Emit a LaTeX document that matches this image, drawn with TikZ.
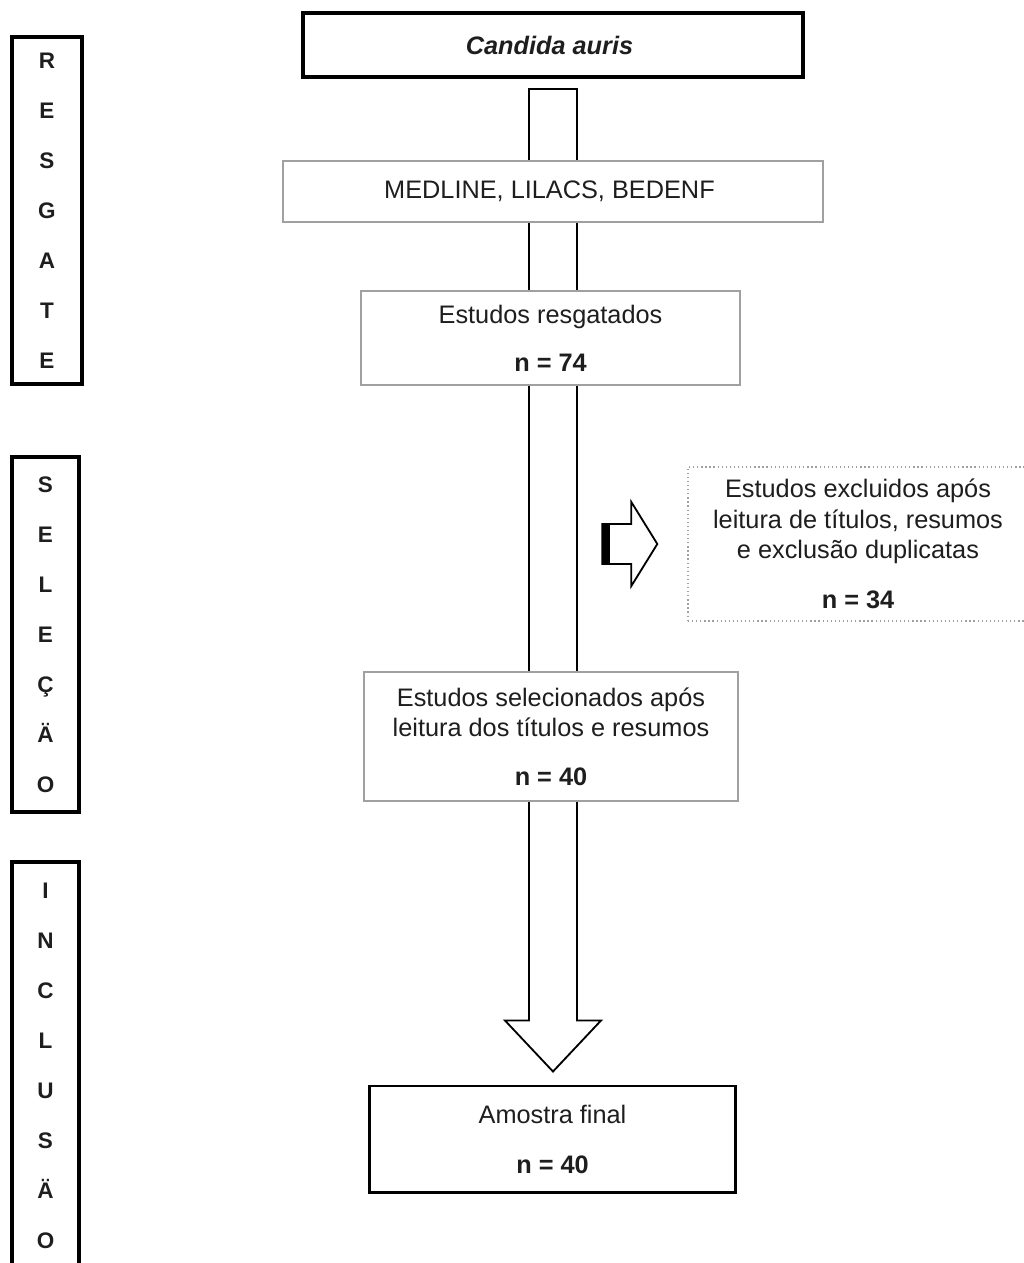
\documentclass[tikz,border=0pt]{standalone}
\usepackage{fontspec}
\setmainfont{Liberation Sans}
\usetikzlibrary{positioning,calc,backgrounds}
\definecolor{boxgray}{HTML}{A0A0A0}
\definecolor{inkgray}{HTML}{1E1E1E}

\begin{document}
\begin{tikzpicture}[
  x=0.025cm, y=-0.025cm,
  font=\fontsize{18}{21.5}\selectfont,
  headbox/.style={
    draw=black,
    fill=white,
    line width=2.8pt,
    inner sep=0pt,
    align=center,
    text=inkgray
  },
  plainbox/.style={
    draw=boxgray,
    fill=white,
    line width=0.9pt,
    inner sep=0pt,
    align=center,
    text=inkgray
  },
  dotbox/.style={
    draw=boxgray,
    fill=white,
    dotted,
    line width=0.9pt,
    inner sep=0pt,
    align=center,
    text=inkgray
  },
  stagebox/.style={
    draw=black,
    fill=white,
    line width=2.6pt,
    inner sep=0pt,
    align=center,
    text=inkgray,
    font=\fontsize{16}{35.6}\selectfont\bfseries
  },
  hollowarrow/.style={
    draw=black,
    fill=white,
    line width=1.3pt,
    line join=miter
  }
]
  \useasboundingbox (0,0) rectangle (1024,1263);

  % =========================================================================
  % STAGE LABELS (LEFT COLUMN)
  % =========================================================================
  \node[stagebox, minimum width=1.75cm, minimum height=8.675cm] (st_resgate) at (47, 210.5) {
    R\\E\\S\\G\\A\\T\\E
  };
  \node[stagebox, minimum width=1.675cm, minimum height=8.875cm] (st_selecao) at (45.5, 634.5) {
    S\\E\\L\\E\\Ç\\Ä\\O
  };
  \node[stagebox, minimum width=1.675cm, minimum height=10.2cm] (st_inclusao) at (45.5, 1066) {
    I\\N\\C\\L\\U\\S\\Ä\\O
  };

  % =========================================================================
  % FLOW BOXES
  % =========================================================================
  \node[headbox, minimum width=12.5cm, minimum height=1.6cm] (cand) at (553, 45) {
    \textbf{\textit{Candida auris}}
  };

  \node[plainbox, minimum width=13.5cm, minimum height=1.525cm] (bases) at (553, 191.5) {
    MEDLINE, LILACS, BEDENF
  };

  \node[plainbox, minimum width=9.475cm, minimum height=2.35cm] (resg) at (550.5, 338) {
    Estudos resgatados\\[12.6pt]
    \textbf{n = 74}
  };

  \node[dotbox, minimum width=8.5cm, minimum height=3.85cm] (excl) at (858, 544) {
    Estudos excluidos após\\
    leitura de títulos, resumos\\
    e exclusão duplicatas\\[14pt]
    \textbf{n = 34}
  };

  \node[plainbox, minimum width=9.35cm, minimum height=3.225cm] (sel) at (551, 736.5) {
    Estudos selecionados após\\
    leitura dos títulos e resumos\\[13pt]
    \textbf{n = 40}
  };

  \node[headbox, line width=2.1pt, minimum width=9.125cm, minimum height=2.65cm] (final) at (552.5, 1139) {
    Amostra final\\[14pt]
    \textbf{n = 40}
  };

  % =========================================================================
  % BLOCK ARROWS
  % =========================================================================
  \coordinate (shafttop) at ($(cand.south)+(0,10)$);
  \coordinate (tip) at ($(shafttop |- final.north)+(0,-13)$);
  \begin{scope}[on background layer]
    \draw[hollowarrow] ($(shafttop)+(-24,0)$) -- ($(shafttop)+(24,0)$)
      -- ($(tip)+(24,-51)$) -- ($(tip)+(48,-51)$) -- (tip)
      -- ($(tip)+(-48,-51)$) -- ($(tip)+(-24,-51)$) -- cycle;
  \end{scope}

  % side arrow toward the excluded studies
  \coordinate (sidetip) at ($(excl.west)+(-30,0)$);
  \draw[hollowarrow] ($(sidetip)+(-55,-20)$) -- ($(sidetip)+(-26,-20)$)
    -- ($(sidetip)+(-26,-42)$) -- (sidetip) -- ($(sidetip)+(-26,42)$)
    -- ($(sidetip)+(-26,20)$) -- ($(sidetip)+(-55,20)$) -- cycle;
  \fill[black] ($(sidetip)+(-55,-20)$) rectangle ($(sidetip)+(-47,20)$);

\end{tikzpicture}
\end{document}
